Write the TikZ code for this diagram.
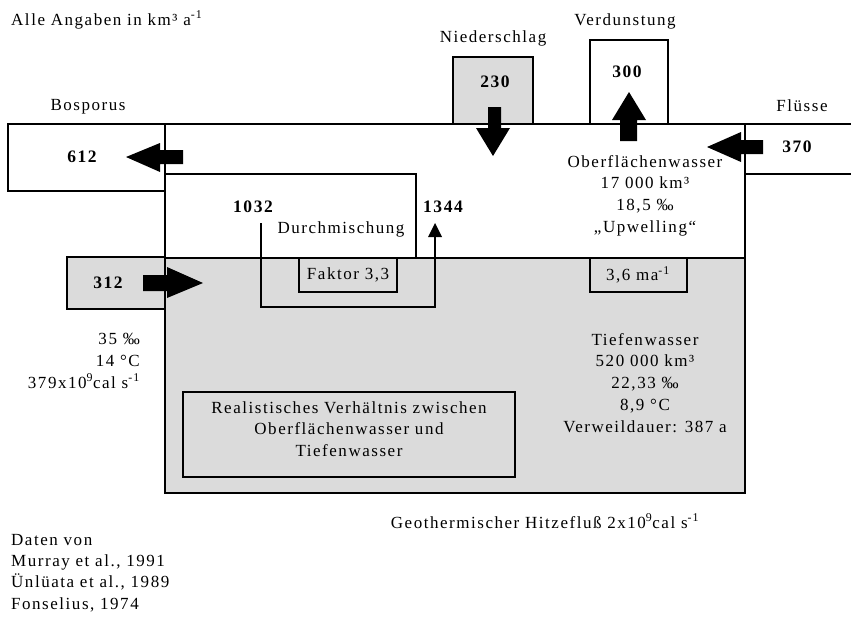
\documentclass[tikz,border=0pt]{standalone}
\usepackage{fontspec}
\setmainfont{Liberation Serif}[LetterSpace=9]
\begin{document}
\begin{tikzpicture}[x=1pt,y=-1pt,
  box/.style={draw,line width=1.6pt},
  shaded/.style={box,fill=black!14},
  blk/.style={fill=black},
  txt/.style={font=\fontsize{17}{21.8}\selectfont,inner sep=0pt,align=center},
  num/.style={font=\fontsize{17.5}{22}\selectfont\bfseries,inner sep=0pt},
  mix/.style={line width=1.3pt}
]
\useasboundingbox (0,0) rectangle (851,616);
% boxes
\draw[box,fill=white] (165,124) rectangle (745,258);
\draw[shaded] (165,258) rectangle (745,493);
\draw[box] (165,174) -- (416,174) -- (416,258);
\draw[box,fill=white] (8,124) rectangle (165,191);
\draw[box] (853,124) -- (745,124) -- (745,174) -- (853,174);
\draw[shaded] (453,57) rectangle (533,124);
\draw[box,fill=white] (590,40) rectangle (668,124);
\draw[shaded] (67,257) rectangle (165,309);
\draw[shaded] (299,258) rectangle (397,292);
\draw[shaded] (590,258) rectangle (687,292);
\draw[shaded] (183,392) rectangle (515,477);
% mixing loop
\coordinate (m1) at (261,223);
\coordinate (m2) at (261,307);
\coordinate (m3) at (435,307);
\coordinate (m4) at (435,223);
\draw[mix] (m1) -- (m2) -- (m3) -- (435,236);
\fill (m4) -- (442,237) -- (428,237) -- cycle;
% block arrows
\fill[blk] (126,157) -- (160,143) -- (160,150) -- (183,150) -- (183,164) -- (160,164) -- (160,172) -- cycle;
\fill[blk] (203,283) -- (167,267) -- (167,275) -- (143,275) -- (143,291) -- (167,291) -- (167,298) -- cycle;
\fill[blk] (493,156) -- (476,128) -- (488,128) -- (488,107) -- (501,107) -- (501,128) -- (510,128) -- cycle;
\fill[blk] (629,92) -- (646,120) -- (637,120) -- (637,141) -- (620,141) -- (620,120) -- (612,120) -- cycle;
\fill[blk] (707,147) -- (741,132) -- (741,140) -- (763,140) -- (763,154) -- (741,154) -- (741,162) -- cycle;
% labels
\node[txt,anchor=west] (unit) at (11,20) {Alle Angaben in km³ a\textsuperscript{-1}};
\node[txt] (bos) at (88,107) {Bosporus};
\node[txt] (nied) at (493,38) {Niederschlag};
\node[txt] (verd) at (625,21) {Verdunstung};
\node[txt] (flu) at (802,106) {Flüsse};
\node[num] (n612) at (82,157) {612};
\node[num] (n230) at (495,82) {230};
\node[num] (n300) at (627,72) {300};
\node[num] (n370) at (797,147) {370};
\node[num] (n312) at (108,283) {312};
\node[num] (n1032) at (253,207) {1032};
\node[num] (n1344) at (443,207) {1344};
\node[txt] (durch) at (341,229) {Durchmischung};
\node[txt] (fak) at (348,275) {Faktor 3,3};
\node[txt] (ma) at (638,275) {3,6 ma\textsuperscript{-1}};
\node[txt,anchor=north] (ober) at (645,155) {Oberflächenwasser\\17 000 km³\\18,5 ‰\\„Upwelling“};
\node[txt,anchor=north] (tief) at (645,333) {Tiefenwasser\\520 000 km³\\22,33 ‰\\8,9 °C\\Verweildauer: 387 a};
\node[txt,anchor=north east,align=right] (left) at (140,333) {35 ‰\\14 °C\\379x10\textsuperscript{9}cal s\textsuperscript{-1}};
\node[txt,anchor=north] (real) at (349,401) {Realistisches Verhältnis zwischen\\Oberflächenwasser und\\Tiefenwasser};
\node[txt] (geo) at (545,521) {Geothermischer Hitzefluß 2x10\textsuperscript{9}cal s\textsuperscript{-1}};
\node[txt,anchor=north west,align=left,font=\fontsize{17}{21.3}\selectfont] (daten) at (11,534) {Daten von\\Murray et al., 1991\\Ünlüata et al., 1989\\Fonselius, 1974};
\end{tikzpicture}
\end{document}
